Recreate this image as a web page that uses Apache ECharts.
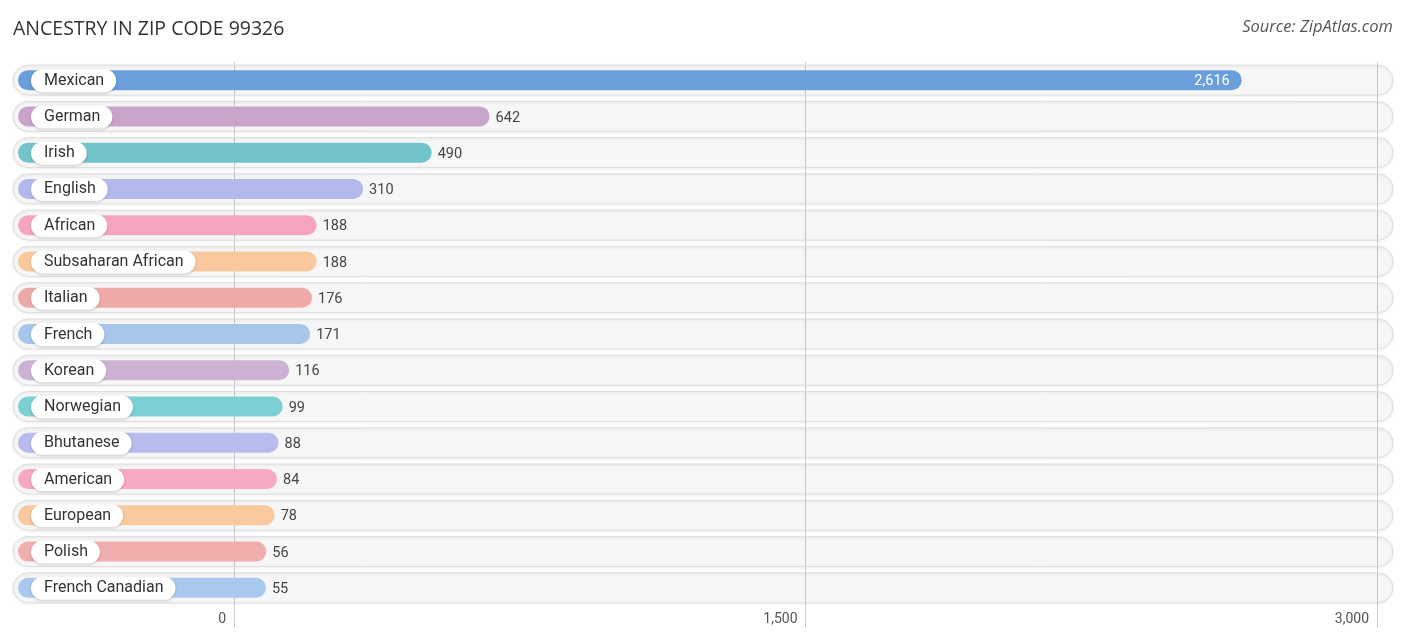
<!DOCTYPE html>
<html>
<head>
<meta charset="utf-8">
<script src="https://cdn.jsdelivr.net/npm/echarts@6/dist/echarts.min.js"></script>
<style>
  html, body { margin: 0; padding: 0; background: #fff; }
  #chart { width: 1406px; height: 644px; }
</style>
</head>
<body>
<div id="chart"></div>
<script>
const categories = ['Mexican', 'German', 'Irish', 'English', 'African', 'Subsaharan African', 'Italian',
  'French', 'Korean', 'Norwegian', 'Bhutanese', 'American', 'European', 'Polish', 'French Canadian']
const values = [2616, 642, 490, 310, 188, 188, 176, 171, 116, 99, 88, 84, 78, 56, 55]
const colors = ['#6a9fdb', '#c8a4cb', '#72c4ca', '#b3b9ea', '#f6a5c0', '#f9c89c', '#efaaa8',
  '#a7c6ea', '#cdb3d3', '#7ccfd3', '#b7bbee', '#f7a8c3', '#f9c99f', '#f0aeac', '#a9c8ed']
const xTicks = [0, 1500, 3000]

let myChart = echarts.init(document.getElementById('chart'), null, {renderer: 'canvas'})

function renderRow(params, api) {
  const idx = api.value(1)
  const v = api.value(0)
  const mid = api.coord([0, idx])[1]
  const xe = api.coord([v, idx])[0] + 11
  const xr = api.coord([xTicks[xTicks.length - 1], idx])[0] + 16
  const inside = xe - 18 > 600
  const children = [
    {
      type: 'rect',
      shape: {x: 13, y: mid - 15, width: xr - 13, height: 30, r: 15},
      style: {fill: 'rgba(0,0,0,0.035)', stroke: '#dcdcdc', lineWidth: 1,
        shadowBlur: 3, shadowColor: 'rgba(0,0,0,0.12)', shadowOffsetY: 1},
      z2: 0
    },
    {
      type: 'rect',
      shape: {x: 18, y: mid - 10, width: xe - 18, height: 20, r: 10},
      style: {fill: colors[params.dataIndex]},
      z2: 2
    },
    {
      type: 'text',
      x: 31, y: mid + 0.5,
      style: {
        text: categories[params.dataIndex],
        font: '16px Roboto, "Noto Sans", sans-serif',
        fill: '#333',
        verticalAlign: 'middle',
        align: 'left',
        lineHeight: 17,
        padding: [3, 12, 3, 13],
        backgroundColor: '#fff',
        borderRadius: 12,
        shadowBlur: 3,
        shadowColor: 'rgba(0,0,0,0.2)',
        shadowOffsetY: 1
      },
      z2: 4
    },
    {
      type: 'text',
      x: inside ? xe - 12 : xe + 6, y: mid + 1.5,
      style: {
        text: echarts.format.addCommas(v),
        font: '14.5px Roboto, "Noto Sans", sans-serif',
        fill: inside ? '#fff' : '#444',
        align: inside ? 'right' : 'left',
        verticalAlign: 'middle'
      },
      z2: 5
    }
  ]
  return {type: 'group', children: children}
}

myChart.setOption({
  animation: false,
  title: [
    {
      text: 'ANCESTRY IN ZIP CODE 99326',
      left: 13, top: 19, padding: 0,
      textStyle: {fontFamily: '"Open Sans", sans-serif', fontSize: 19.5, fontWeight: 'normal', color: '#333'}
    },
    {
      text: 'Source: ZipAtlas.com',
      right: 13, top: 19, padding: 0,
      textStyle: {fontFamily: '"Open Sans", sans-serif', fontSize: 16.5, fontStyle: 'italic', fontWeight: 'normal', color: '#555'}
    }
  ],
  grid: {left: 234, right: 29, top: 62, bottom: 38, containLabel: false, outerBoundsMode: 'none'},
  xAxis: {
    type: 'value',
    min: xTicks[0],
    max: xTicks[xTicks.length - 1],
    interval: xTicks[1] - xTicks[0],
    axisLine: {show: false},
    axisTick: {show: true, length: 22, inside: false, lineStyle: {color: '#cccccc'}},
    splitLine: {show: true, lineStyle: {color: '#cccccc', width: 1}},
    axisLabel: {
      color: '#555', fontSize: 14, fontFamily: 'Roboto, sans-serif',
      align: 'right', padding: [0, 8, 0, 0], margin: 6,
      formatter: v => echarts.format.addCommas(v)
    }
  },
  yAxis: {
    type: 'category',
    data: categories,
    inverse: true,
    axisLine: {show: false},
    axisTick: {show: false},
    axisLabel: {show: false},
    splitLine: {show: false}
  },
  series: [
    {
      type: 'custom',
      clip: false,
      renderItem: renderRow,
      encode: {x: 0, y: 1},
      data: values.map((v, i) => [v, i])
    }
  ]
})
</script>
</body>
</html>
